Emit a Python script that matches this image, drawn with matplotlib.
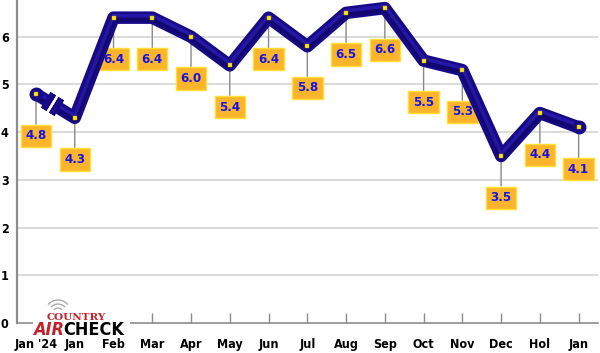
import numpy as np
import matplotlib
matplotlib.use('Agg')
import matplotlib.pyplot as plt
import matplotlib.patches as patches
import matplotlib.transforms as mtransforms
from matplotlib import font_manager

# -- data
months = ["Jan '24", 'Jan', 'Feb', 'Mar', 'Apr', 'May', 'Jun', 'Jul',
          'Aug', 'Sep', 'Oct', 'Nov', 'Dec', 'Hol', 'Jan']
values = [4.8, 4.3, 6.4, 6.4, 6.0, 5.4, 6.4, 5.8, 6.5, 6.6, 5.5, 5.3, 3.5, 4.4, 4.1]
yticks = [0, 1, 2, 3, 4, 5, 6]

NAVY = '#170a88'
DARK = '#0a044f'
HILITE = '#3424c0'
FP = font_manager.FontProperties(family='DejaVu Sans', weight='bold', stretch='condensed', size=9)

fig = plt.figure(figsize=(6, 3.53), dpi=100)
ax = fig.add_axes([17/600, 30/353, 581/600, 323/353])
x = np.arange(len(values))
ax.set_xlim(-0.49, 14.5)
ax.set_ylim(0, 6.77)

# -- grid & spines
for v in yticks[1:]:
    ax.axhline(v, color='#d9d9d9', lw=1.3, zorder=0)
for s in ['top', 'right']:
    ax.spines[s].set_visible(False)
ax.spines['left'].set_color('#8c8c8c')
ax.spines['left'].set_linewidth(1.6)
ax.spines['bottom'].set_color('#8c8c8c')
ax.spines['bottom'].set_linewidth(1.2)

ax.set_yticks(yticks)
ax.set_yticklabels([str(v) for v in yticks], fontproperties=FP)
ax.tick_params(axis='y', length=0, pad=6)
ax.set_xticks(x)
ax.set_xticklabels(months, fontproperties=FP)
ax.tick_params(axis='x', direction='in', length=7, width=1, color='#8c8c8c', pad=11)

# -- the line, with a break between the first two points
up = mtransforms.offset_copy(ax.transData, fig=fig, x=0, y=2, units='dots')
dn = mtransforms.offset_copy(ax.transData, fig=fig, x=0, y=-2, units='dots')

def seg(xs, ys):
    ax.plot(xs, ys, color=NAVY, lw=9, solid_capstyle='butt', solid_joinstyle='round', zorder=3)
    ax.plot(xs, ys, color=DARK, lw=3, solid_capstyle='butt', solid_joinstyle='round', zorder=3, transform=dn, alpha=0.45)
    ax.plot(xs, ys, color=HILITE, lw=2.5, solid_capstyle='butt', solid_joinstyle='round', zorder=3, transform=up, alpha=0.55)

t1, t2 = 0.30, 0.52
bx1 = x[0] + t1 * (x[1] - x[0]); by1 = values[0] + t1 * (values[1] - values[0])
bx2 = x[0] + t2 * (x[1] - x[0]); by2 = values[0] + t2 * (values[1] - values[0])
seg([x[0], bx1], [values[0], by1])
seg([bx2] + list(x[1:]), [by2] + values[1:])
# round ends
ax.plot([x[0], x[-1]], [values[0], values[-1]], 'o', ms=9, color=NAVY, zorder=3)

# perpendicular caps at the break
fig.canvas.draw()
p0 = ax.transData.transform((x[0], values[0]))
p1 = ax.transData.transform((x[1], values[1]))
ang = np.degrees(np.arctan2(p1[1] - p0[1], p1[0] - p0[0]))
ax.plot([bx1, bx2], [by1, by2], ls='none', marker=(2, 2, ang), ms=13, mew=4.5,
        mec=NAVY, zorder=3)

# -- yellow point markers
ax.plot(x, values, 's', ms=3, color='#ffe81a', mec='#c8a000', mew=0.3, zorder=4)

# -- value labels
lab_fp = FP.copy()
lab_fp.set_size(9.5)
for xi, v in zip(x, values):
    ax.annotate(f'{v:.1f}', (xi, v), xytext=(0, -30), textcoords='offset points',
                ha='center', va='center', color='#1414e6', fontproperties=lab_fp, zorder=2,
                bbox=dict(boxstyle='square,pad=0.35', fc='#fcb42c', ec='#ffe033', lw=1),
                arrowprops=dict(arrowstyle='-', color='#8a8a8a', lw=1, shrinkA=0, shrinkB=0))

# -- logo
fig.patches.append(patches.Rectangle((33, 353 - 338), 97, 36, transform=None,
                                     fc='white', ec='none', zorder=5))
for r in (5, 9, 13):
    fig.patches.append(patches.Arc((58, 353 - 313), 2 * r, 2 * r, theta1=40, theta2=140,
                                   transform=None, color='#aaaaaa', lw=1, zorder=6))
fig.text(76 / 600, 1 - 318 / 353, 'COUNTRY', color='#c8202a', fontsize=7.5, fontweight='bold',
         family='DejaVu Serif', ha='center', va='center', zorder=7)
logo_fp = font_manager.FontProperties(family='DejaVu Sans', weight='heavy', stretch='condensed', size=13)
fig.text(33 / 600, 1 - 330 / 353, 'AIR', color='#c8202a', fontproperties=logo_fp,
         style='italic', ha='left', va='center', zorder=7)
fig.text(63 / 600, 1 - 330 / 353, 'CHECK', color='black', fontproperties=logo_fp,
         ha='left', va='center', zorder=7)

fig.savefig('out.png', dpi=100)
